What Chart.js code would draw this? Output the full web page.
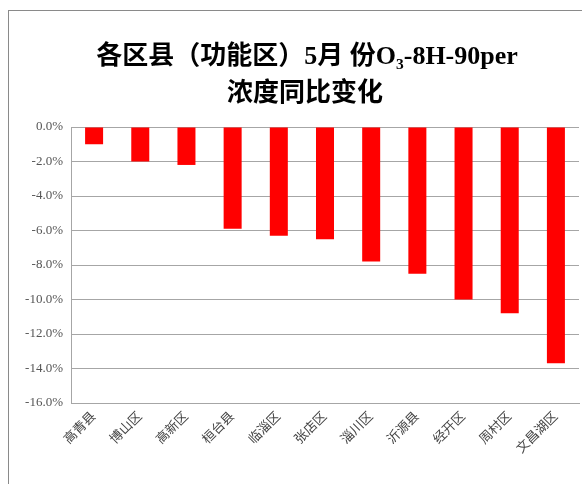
<!DOCTYPE html>
<html>
<head>
<meta charset="utf-8">
<script src="https://cdn.jsdelivr.net/npm/chart.js@4.4.0/dist/chart.umd.min.js"></script>
<style>
  body { margin: 0; background: #fff; }
  #box {
    position: absolute; left: 8px; top: 10px;
    width: 574px; height: 474px;
    border-left: 1px solid #8a8a8a; border-top: 1px solid #8a8a8a;
  }
</style>
</head>
<body>
<div id="box"><canvas id="mycanvas"></canvas></div>
<script>
var districts = ["高青县", "博山区", "高新区", "桓台县", "临淄区", "张店区", "淄川区", "沂源县", "经开区", "周村区", "文昌湖区"];
var change = [-1.0, -2.0, -2.2, -5.9, -6.3, -6.5, -7.8, -8.5, -10.0, -10.8, -13.7];
var titleLines = ["各区县（功能区）5月 份O₃-8H-90per", "浓度同比变化"];

var serif = "'Liberation Serif', 'Noto Sans CJK SC', serif";

// title drawn by hand so it can sit a little right of centre like the original
var titlePlugin = {
  id: "bigTitle",
  afterDraw: function(chart) {
    var c = chart.ctx;
    c.save();
    c.fillStyle = "#000";
    c.font = "bold 26px " + serif;
    c.textAlign = "center";
    c.textBaseline = "middle";
    c.fillText(titleLines[0], 298, 46);
    c.fillText(titleLines[1], 296, 83);
    c.restore();
  }
};

var ctx = document.getElementById("mycanvas");
new Chart(ctx, {
  type: "bar",
  data: {
    labels: districts,
    datasets: [{
      data: change,
      backgroundColor: "#ff0000",
      borderWidth: 0,
      barPercentage: 0.78,
      categoryPercentage: 0.5
    }]
  },
  options: {
    responsive: true,
    maintainAspectRatio: false,
    animation: false,
    layout: { padding: { left: 0, right: 4, top: 116, bottom: 0 } },
    plugins: {
      legend: { display: false },
      tooltip: { enabled: false },
      title: { display: false }
    },
    scales: {
      x: {
        grid: { display: false, drawTicks: false },
        border: { display: true, color: "#a6a6a6" },
        ticks: {
          color: "#444",
          font: { family: serif, size: 13 },
          minRotation: 45,
          maxRotation: 45,
          padding: 6
        },
        afterFit: function(scale) { scale.height = 82; }
      },
      y: {
        min: -16,
        max: 0,
        grid: { color: "#a6a6a6", drawTicks: false },
        border: { display: true, color: "#a6a6a6" },
        ticks: {
          stepSize: 2,
          color: "#555",
          padding: 8,
          font: { family: serif, size: 13 },
          callback: function(v) { return v.toFixed(1) + "%"; }
        },
        afterFit: function(scale) { scale.width = 62; }
      }
    }
  },
  plugins: [titlePlugin]
});
</script>
</body>
</html>
